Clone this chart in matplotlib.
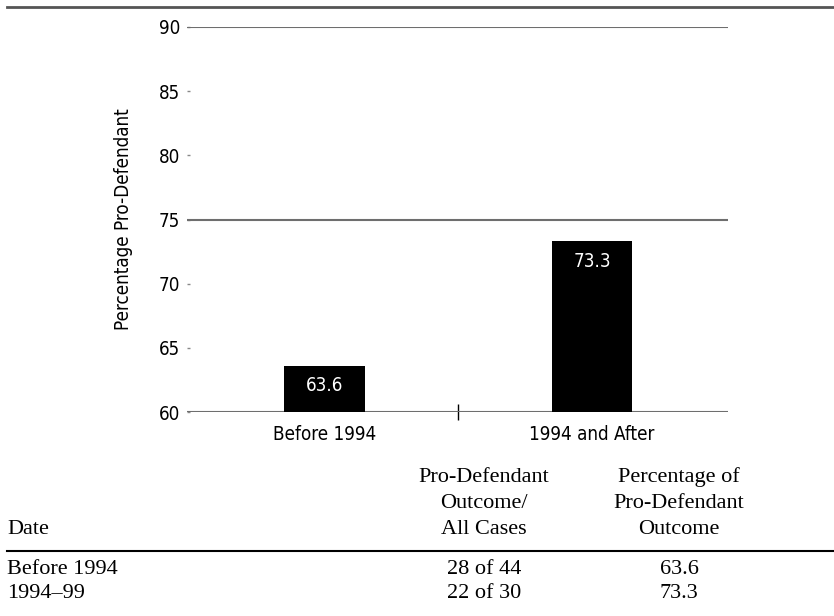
import matplotlib
matplotlib.use("Agg")
import matplotlib.pyplot as plt
from matplotlib.lines import Line2D

# outcome data by period
periods = ["Before 1994", "1994 and After"]
table_periods = ["Before 1994", "1994\u201399"]
pro_def = [28, 22]
all_cases = [44, 30]
pct = [63.6, 73.3]

y_ticks = [60, 65, 70, 75, 80, 85, 90]
rules = [60, 75, 90]

W, H = 834, 616
sans = dict(family="DejaVu Sans", stretch="condensed", fontsize=13.5)
serif = ["Liberation Serif", "DejaVu Serif"]


def fx(px):
    return px / W


def fy(py):
    return 1 - py / H


fig = plt.figure(figsize=(W / 100, H / 100), dpi=100)
ax = fig.add_axes([fx(187), fy(412), fx(728) - fx(187), fy(27) - fy(412)])

x = list(range(len(periods)))
ax.bar(x, pct, width=0.3, color="black", zorder=3)
for xi, v in zip(x, pct):
    ax.text(xi, v - 1.55, f"{v}", color="white", ha="center", va="center",
            zorder=4, **sans)

for r in rules:
    ax.axhline(r, color="#6e6e6e", lw=1.5, zorder=2)

ax.set_xlim(-0.514, 1.508)
ax.set_ylim(60, 90)
for s in ax.spines.values():
    s.set_visible(False)

ax.set_yticks(y_ticks)
ax.set_yticklabels([str(t) for t in y_ticks], **sans)
ax.tick_params(axis="y", direction="in", length=2, width=1, color="#888888", pad=5)

ax.set_xticks(x)
ax.set_xticklabels(periods, **sans)
ax.tick_params(axis="x", length=0, pad=9)
ax.set_xticks([0.5], minor=True)
ax.tick_params(axis="x", which="minor", direction="inout", length=12, width=1, color="black")

ax.set_ylabel("Percentage Pro-Defendant", **sans)
ax.yaxis.set_label_coords(-0.1, 0.5)

# rules above chart and under table header
fig.add_artist(Line2D([fx(7), 1], [fy(7), fy(7)], color="#555555", lw=2))
fig.add_artist(Line2D([fx(7), 1], [fy(551), fy(551)], color="black", lw=1.5))

tkw = dict(family=serif, fontsize=16, va="center")
col2, col3 = fx(484), fx(679)
fig.text(fx(7), fy(530), "Date", ha="left", **tkw)
for txt, py in zip(["Pro-Defendant", "Outcome/", "All Cases"], [477, 503, 530]):
    fig.text(col2, fy(py), txt, ha="center", **tkw)
for txt, py in zip(["Percentage of", "Pro-Defendant", "Outcome"], [477, 503, 530]):
    fig.text(col3, fy(py), txt, ha="center", **tkw)

for name, a, b, p, py in zip(table_periods, pro_def, all_cases, pct, [570, 593]):
    fig.text(fx(7), fy(py), name, ha="left", **tkw)
    fig.text(col2, fy(py), f"{a} of {b}", ha="center", **tkw)
    fig.text(col3, fy(py), f"{p}", ha="center", **tkw)

fig.savefig("out.png", dpi=100)
